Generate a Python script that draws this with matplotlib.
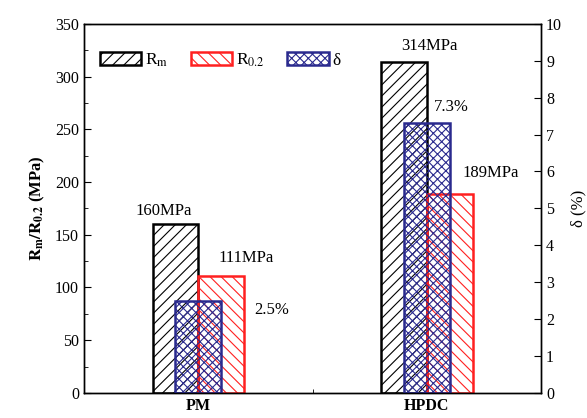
import matplotlib
matplotlib.use("Agg")
import matplotlib.pyplot as plt
import numpy as np

plt.rcParams['font.family'] = ['Liberation Serif', 'DejaVu Serif']
plt.rcParams['mathtext.fontset'] = 'stix'
plt.rcParams['hatch.linewidth'] = 0.8

categories = ["PM", "HPDC"]
rm = [160, 314]
r02 = [111, 189]
delta = [2.5, 7.3]
rm_labels = ["160MPa", "314MPa"]
r02_labels = ["111MPa", "189MPa"]
delta_labels = ["2.5%", "7.3%"]

x = np.arange(len(categories))
w = 0.2

fig = plt.figure(figsize=(5.87, 4.18), dpi=100)
ax = fig.add_axes([0.143, 0.06, 0.779, 0.883])
ax2 = ax.twinx()

b1 = ax.bar(x - w/2, rm, w, facecolor='none', edgecolor='black', hatch='///', linewidth=1.8, label=r'R$_{\mathrm{m}}$')
b2 = ax.bar(x + w/2, r02, w, facecolor='none', edgecolor='#ff2020', hatch='\\\\\\', linewidth=1.8, label=r'R$_{0.2}$')
b3 = ax2.bar(x, delta, w, facecolor='none', edgecolor='#2a2a8e', hatch='xxxx', linewidth=1.8, label='δ')

ax.set_xlim(-0.5, 1.5)
ax.set_ylim(0, 350)
ax2.set_ylim(0, 10)
ax.set_yticks(np.arange(0, 351, 50))
ax.set_yticks(np.arange(0, 351, 25), minor=True)
ax2.set_yticks(np.arange(0, 11, 1))
ax.set_xticks(x)
ax.set_xticks([0.5], minor=True)
ax.set_xticklabels(categories, fontweight='bold', fontsize=11.5)
ax.tick_params(axis='x', which='major', length=0, pad=4)
ax.tick_params(axis='x', which='minor', direction='in', length=3)
ax.tick_params(axis='y', which='both', direction='in', labelsize=11.5)
ax.tick_params(axis='y', which='major', length=5)
ax.tick_params(axis='y', which='minor', length=3)
ax2.tick_params(axis='y', direction='in', length=5, labelsize=11.5)

for a in (ax, ax2):
    for s in a.spines.values():
        s.set_linewidth(1.0)

ax.set_ylabel(r'$\mathbf{R_m/R_{0.2}}$ (MPa)', fontweight='bold', fontsize=12, labelpad=6)
ax2.set_ylabel('δ (%)', fontsize=12, labelpad=6)

# annotations
fs = 12
ax.text(x[0] - 0.15, rm[0] + 5, rm_labels[0], ha='center', va='bottom', fontsize=fs)
ax.text(x[0] + 0.21, r02[0] + 9, r02_labels[0], ha='center', va='bottom', fontsize=fs)
ax2.text(x[0] + 0.32, 2.25, delta_labels[0], ha='center', va='center', fontsize=fs)
ax.text(x[1] + 0.01, rm[1] + 7, rm_labels[1], ha='center', va='bottom', fontsize=fs)
ax2.text(x[1] + 0.105, delta[1] + 0.22, delta_labels[1], ha='center', va='bottom', fontsize=fs)
ax.text(x[1] + 0.28, r02[1] + 12, r02_labels[1], ha='center', va='bottom', fontsize=fs)

handles = [b1, b2, b3]
ax2.legend(handles, [h.get_label() for h in handles], loc='upper left', ncol=3, frameon=False,
           fontsize=12.5, handlelength=2.4, handleheight=0.8, columnspacing=1.3, handletextpad=0.2,
           bbox_to_anchor=(0.0, 0.967))

fig.savefig("out.png", dpi=100)
